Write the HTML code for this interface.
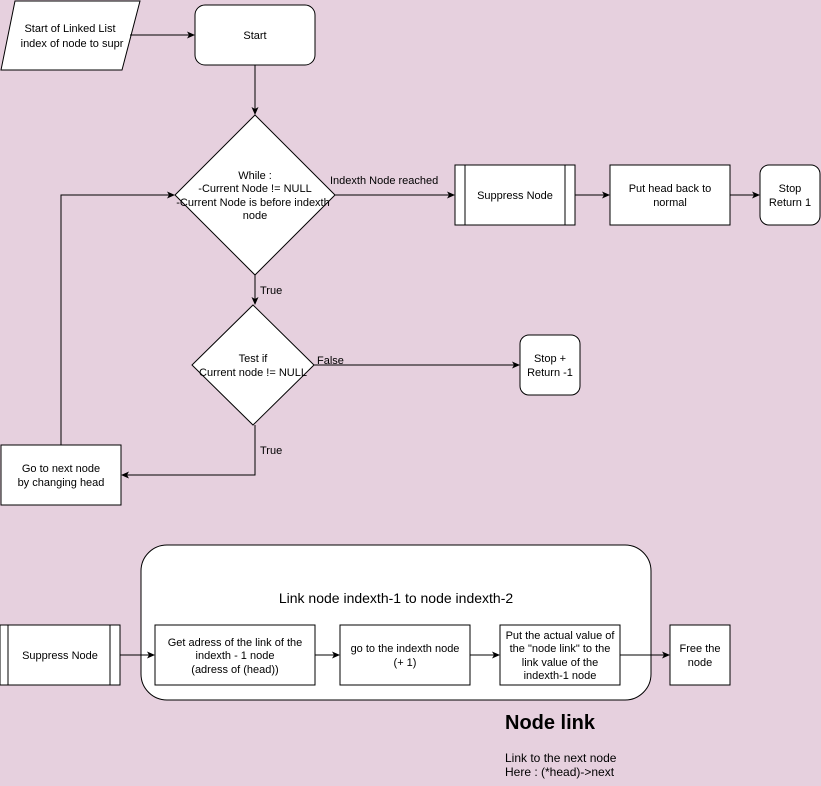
<!DOCTYPE html>
<html><head><style>
html,body{margin:0;padding:0;background:#E6D0DE;}
svg{display:block;font-family:"Liberation Sans",Arial,sans-serif;}
text{font-size:11px;fill:#000;}
</style></head><body>
<svg width="821" height="786" viewBox="0 0 821 786" xmlns="http://www.w3.org/2000/svg">
<defs><marker id="a" markerWidth="8" markerHeight="8" refX="7" refY="4" orient="auto" markerUnits="userSpaceOnUse"><path d="M0,0.5 L8,4 L0,7.5 L2,4 Z" fill="#000"/></marker></defs>
<rect width="821" height="786" fill="#E6D0DE"/>
<g stroke="#000" stroke-width="1" fill="#fff">
<polygon points="15,1 140,1 122,70 1,70"/>
<rect x="195" y="5" width="120" height="60" rx="10"/>
<polygon points="255,115 335,195 255,275 175,195"/>
<rect x="455" y="165" width="120" height="60"/>
<line x1="465" y1="165" x2="465" y2="225"/><line x1="565" y1="165" x2="565" y2="225"/>
<rect x="610" y="165" width="120" height="60"/>
<rect x="760" y="165" width="60" height="60" rx="9"/>
<polygon points="253,305 314,365 253,425 192,365"/>
<rect x="520" y="335" width="60" height="60" rx="9"/>
<rect x="1" y="445" width="120" height="60"/>
<rect x="141" y="545" width="510" height="155" rx="26"/>
<rect x="0" y="625" width="120" height="60"/>
<line x1="8" y1="625" x2="8" y2="685"/><line x1="110" y1="625" x2="110" y2="685"/>
<rect x="155" y="625" width="160" height="60"/>
<rect x="340" y="625" width="130" height="60"/>
<rect x="500" y="625" width="120" height="60"/>
<rect x="670" y="625" width="60" height="60"/>
</g>
<g stroke="#000" stroke-width="1" fill="none" marker-end="url(#a)">
<line x1="130" y1="35" x2="194" y2="35"/>
<line x1="255" y1="65" x2="255" y2="114"/>
<line x1="335" y1="195" x2="454" y2="195"/>
<line x1="575" y1="195" x2="609" y2="195"/>
<line x1="730" y1="195" x2="759" y2="195"/>
<line x1="255" y1="275" x2="255" y2="304"/>
<line x1="314" y1="365" x2="519" y2="365"/>
<polyline points="255,425 255,475 122,475"/>
<polyline points="61,445 61,195 174,195"/>
<line x1="120" y1="655" x2="154" y2="655"/>
<line x1="315" y1="655" x2="339" y2="655"/>
<line x1="470" y1="655" x2="499" y2="655"/>
<line x1="620" y1="655" x2="669" y2="655"/>
</g>
<g text-anchor="middle">
<text x="70" y="32">Start of Linked List</text>
<text x="72" y="47">index of node to supr</text>
<text x="255" y="39">Start</text>
<text x="255" y="179">While :</text>
<text x="255" y="192">-Current Node != NULL</text>
<text x="253" y="206">-Current Node is before indexth</text>
<text x="255" y="219">node</text>
<text x="515" y="199">Suppress Node</text>
<text x="670" y="192">Put head back to</text>
<text x="670" y="206">normal</text>
<text x="790" y="192">Stop</text>
<text x="790" y="206">Return 1</text>
<text x="253" y="362">Test if</text>
<text x="253" y="376">Current node != NULL</text>
<text x="550" y="362">Stop +</text>
<text x="550" y="376">Return -1</text>
<text x="61" y="472">Go to next node</text>
<text x="61" y="486">by changing head</text>
<text x="396" y="603" style="font-size:14px">Link node indexth-1 to node indexth-2</text>
<text x="60" y="659">Suppress Node</text>
<text x="235" y="646">Get adress of the link of the</text>
<text x="235" y="659">indexth - 1 node</text>
<text x="235" y="673">(adress of (head))</text>
<text x="405" y="652">go to the indexth node</text>
<text x="405" y="666">(+ 1)</text>
<text x="560" y="639">Put the actual value of</text>
<text x="560" y="652">the "node link" to the</text>
<text x="560" y="666">link value of the</text>
<text x="560" y="679">indexth-1 node</text>
<text x="700" y="652">Free the</text>
<text x="700" y="666">node</text>
</g>
<text x="330" y="184">Indexth Node reached</text>
<text x="260" y="294">True</text>
<text x="317" y="364">False</text>
<text x="260" y="454">True</text>
<text x="505" y="729" style="font-size:20px;font-weight:bold">Node link</text>
<text x="505" y="762" style="font-size:12px">Link to the next node</text>
<text x="505" y="776" style="font-size:12px">Here : (*head)-&gt;next</text>
</svg>
</body></html>
